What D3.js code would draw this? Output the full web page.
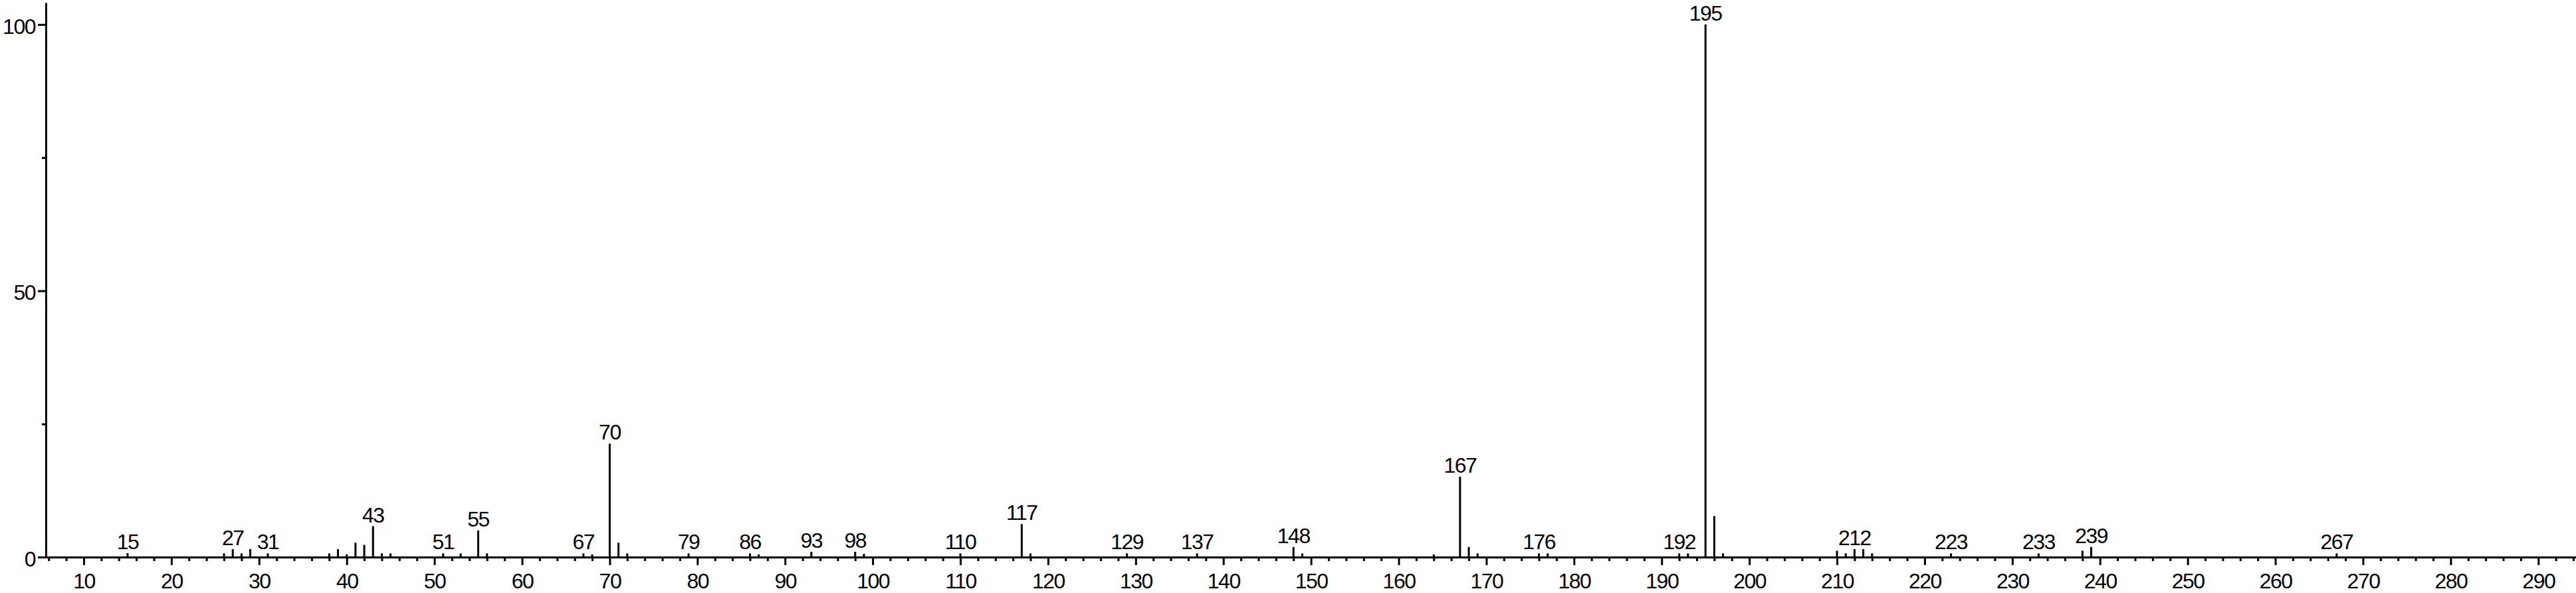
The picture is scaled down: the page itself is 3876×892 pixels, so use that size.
<!DOCTYPE html>
<html>
<head>
<meta charset="utf-8">
<script src="https://cdn.jsdelivr.net/npm/d3@7"></script>
<style>
  body { margin: 0; background: #fff; }
  text { font-family: "Liberation Sans", Arial, sans-serif; letter-spacing: -1.5px; }
</style>
</head>
<body>
<div id="chart"></div>
<script>
// m/z values and relative intensities (%)
const mz = [15, 26, 27, 28, 29, 31, 38, 39, 40, 41, 42, 43, 44, 45, 51, 53, 55, 56,
  67, 68, 70, 71, 72, 79, 86, 87, 93, 98, 99, 110, 117, 118, 129, 137, 148, 149,
  164, 167, 168, 169, 176, 177, 192, 193, 195, 196, 197, 210, 211, 212, 213, 214,
  223, 233, 238, 239, 267];
const intensity = [0.75, 0.7, 1.5, 0.7, 1.5, 0.7, 0.7, 1.5, 0.5, 2.7, 2.3, 5.8, 0.7, 0.7, 0.7, 0.7, 5.0, 0.7,
  0.7, 0.5, 21.3, 2.7, 0.7, 0.7, 0.7, 0.5, 1.0, 1.0, 0.6, 0.7, 6.2, 0.7, 0.7, 0.7, 1.9, 0.7,
  0.5, 15.1, 1.9, 0.7, 0.7, 0.7, 0.7, 0.7, 100, 7.7, 0.7, 1.2, 0.7, 1.5, 1.5, 0.7,
  0.7, 0.7, 1.2, 1.9, 0.7];
// peaks that carry an m/z label
const labelled = [15, 27, 31, 43, 51, 55, 67, 70, 79, 86, 93, 98, 110, 117, 129, 137,
  148, 167, 176, 192, 195, 212, 223, 233, 239, 267];

const xMajor = d3.range(10, 291, 10);
const xMinor = d3.range(6, 295, 2).filter(v => v % 10 != 0);
const yMajor = [0, 50, 100];
const yMinor = [25, 75];

const width = 3876, height = 892;

const svg = d3.select("#chart")
  .append("svg")
  .attr("width", width)
  .attr("height", height)
  .attr("style", "background-color: white");

const x = d3.scaleLinear()
  .domain([5.68, 294.3])
  .range([69, 3876]);

const y = d3.scaleLinear()
  .domain([0, 104.1])
  .range([838, 4]);

const peaks = mz.map((m, i) => ({mz: m, v: intensity[i]}));

// minor ticks first, so the axis line sits on top
svg.append("g")
  .attr("transform", `translate(0, ${y(0)})`)
  .call(d3.axisBottom(x).tickValues(xMinor).tickSize(6).tickSizeOuter(0).tickFormat(""))
  .call(g => g.select(".domain").remove());

svg.append("g")
  .attr("transform", `translate(${x.range()[0]}, 0)`)
  .call(d3.axisLeft(y).tickValues(yMinor).tickSize(6).tickSizeOuter(0).tickFormat(""))
  .call(g => g.select(".domain").remove());

const xAxis = svg.append("g")
  .attr("transform", `translate(0, ${y(0)})`)
  .call(d3.axisBottom(x).tickValues(xMajor).tickSize(12).tickSizeOuter(0).tickPadding(12));

const yAxis = svg.append("g")
  .attr("transform", `translate(${x.range()[0]}, 0)`)
  .call(d3.axisLeft(y).tickValues(yMajor).tickSize(12).tickSizeOuter(0).tickPadding(4));

svg.selectAll(".tick line").attr("stroke", "#000").attr("stroke-width", 3);
svg.selectAll(".domain").attr("stroke", "#000").attr("stroke-width", 3);
svg.selectAll(".tick text")
  .attr("fill", "#000")
  .style("font-size", "32px")
  .style("font-family", "'Liberation Sans', Arial, sans-serif");
yAxis.selectAll(".tick text").attr("dy", "0.42em");

// the stick spectrum
svg.append("g")
  .selectAll("line")
  .data(peaks)
  .join("line")
  .attr("x1", d => x(d.mz))
  .attr("x2", d => x(d.mz))
  .attr("y1", y(0))
  .attr("y2", d => y(d.v))
  .attr("stroke", "#000")
  .attr("stroke-width", 3);

// peak labels
svg.append("g")
  .selectAll("text")
  .data(peaks.filter(d => labelled.includes(d.mz)))
  .join("text")
  .attr("x", d => x(d.mz))
  .attr("y", d => y(d.v) - 6)
  .attr("text-anchor", "middle")
  .style("font-size", "32px")
  .attr("fill", "#000")
  .text(d => d.mz);
</script>
</body>
</html>
